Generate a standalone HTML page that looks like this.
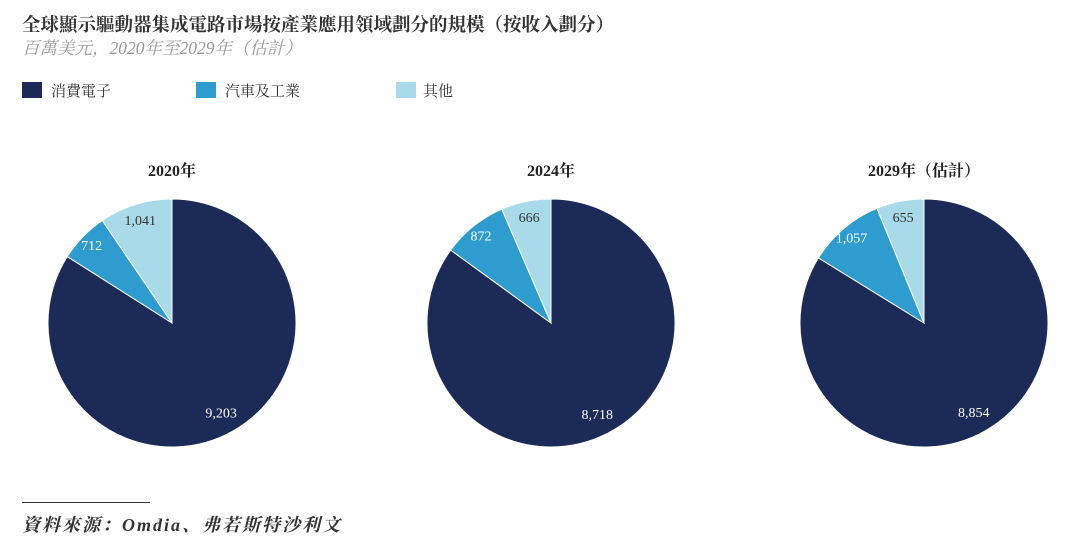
<!DOCTYPE html>
<html><head><meta charset="utf-8"><style>
body{margin:0;width:1080px;height:543px;background:#fff;overflow:hidden;font-family:"Liberation Serif","Noto Serif CJK SC",serif;position:relative}
.t{position:absolute;white-space:nowrap}
</style></head><body>
<div class="t" style="left:22px;top:11px;font-size:18.5px;font-weight:bold;color:#333">全球顯示驅動器集成電路市場按產業應用領域劃分的規模（按收入劃分）</div>
<div class="t" style="left:22px;top:35px;font-size:17.5px;font-style:italic;color:#999">百萬美元，2020年至2029年（估計）</div>
<div>
<div class="t" style="left:22px;top:82px;width:20px;height:16px;background:#1b2a57"></div>
<div class="t" style="left:51px;top:80px;font-size:15px;color:#333">消費電子</div>
<div class="t" style="left:196px;top:82px;width:20px;height:16px;background:#2e9ccf"></div>
<div class="t" style="left:225px;top:80px;font-size:15px;color:#333">汽車及工業</div>
<div class="t" style="left:396px;top:82px;width:20px;height:16px;background:#a8dae9"></div>
<div class="t" style="left:423px;top:80px;font-size:15px;color:#333">其他</div>
</div>
<svg id="pies" width="1080" height="543" style="position:absolute;left:0;top:0"></svg>
<div class="t" style="left:22px;top:502px;width:128px;height:1px;background:#333"></div>
<div class="t" style="left:22px;top:511px;font-size:18px;letter-spacing:2px;font-style:italic;font-weight:bold;color:#333">資料來源：Omdia、弗若斯特沙利文</div>
<script>
const years = ["2020年","2024年","2029年（估計）"];
const consumer = [9203, 8718, 8854];
const auto = [712, 872, 1057];
const other = [1041, 666, 655];
const colors = ["#1b2a57","#2e9ccf","#a8dae9"];
const centersX = [172, 551, 924];
const cy = 323, R = 124;
const svg = document.getElementById('pies');
const NS = "http://www.w3.org/2000/svg";
function pt(cx, a, r){return [cx + r*Math.sin(a), cy - r*Math.cos(a)];}
years.forEach((yr, i) => {
  const vals = [consumer[i], auto[i], other[i]];
  const total = vals.reduce((a,b)=>a+b,0);
  const cx = centersX[i];
  const title = document.createElementNS(NS,'text');
  
  
  title.setAttribute('x',cx);title.setAttribute('y',176);
  title.setAttribute('text-anchor','middle');title.setAttribute('font-size','16');
  title.setAttribute('font-weight','bold');title.setAttribute('fill','#222');
  title.textContent = yr; svg.appendChild(title);
  let start = 0;
  const names = ['consumer','auto','other'];
  vals.forEach((v, k) => {
    const a0 = start/total*2*Math.PI, a1 = (start+v)/total*2*Math.PI;
    const p0 = pt(cx,a0,R), p1 = pt(cx,a1,R);
    const large = (a1-a0) > Math.PI ? 1 : 0;
    const path = document.createElementNS(NS,'path');
    
    
    path.setAttribute('d',`M${cx},${cy} L${p0[0]},${p0[1]} A${R},${R} 0 ${large} 1 ${p1[0]},${p1[1]} Z`);
    path.setAttribute('fill',colors[k]);path.setAttribute('stroke','#fff');path.setAttribute('stroke-width','1');
    svg.appendChild(path);
    const am = (a0+a1)/2;
    const lp = pt(cx, am, k===0 ? 102 : (k===1 ? 112 : 108));
    const lbl = document.createElementNS(NS,'text');
    
    
    lbl.setAttribute('x',lp[0]);lbl.setAttribute('y',lp[1]+5);
    lbl.setAttribute('text-anchor','middle');lbl.setAttribute('font-size','14');
    lbl.setAttribute('fill', k===2 ? '#333' : '#fff');
    lbl.textContent = v.toLocaleString('en-US');
    svg.appendChild(lbl);
    start += v;
  });
});
</script>
</body></html>
